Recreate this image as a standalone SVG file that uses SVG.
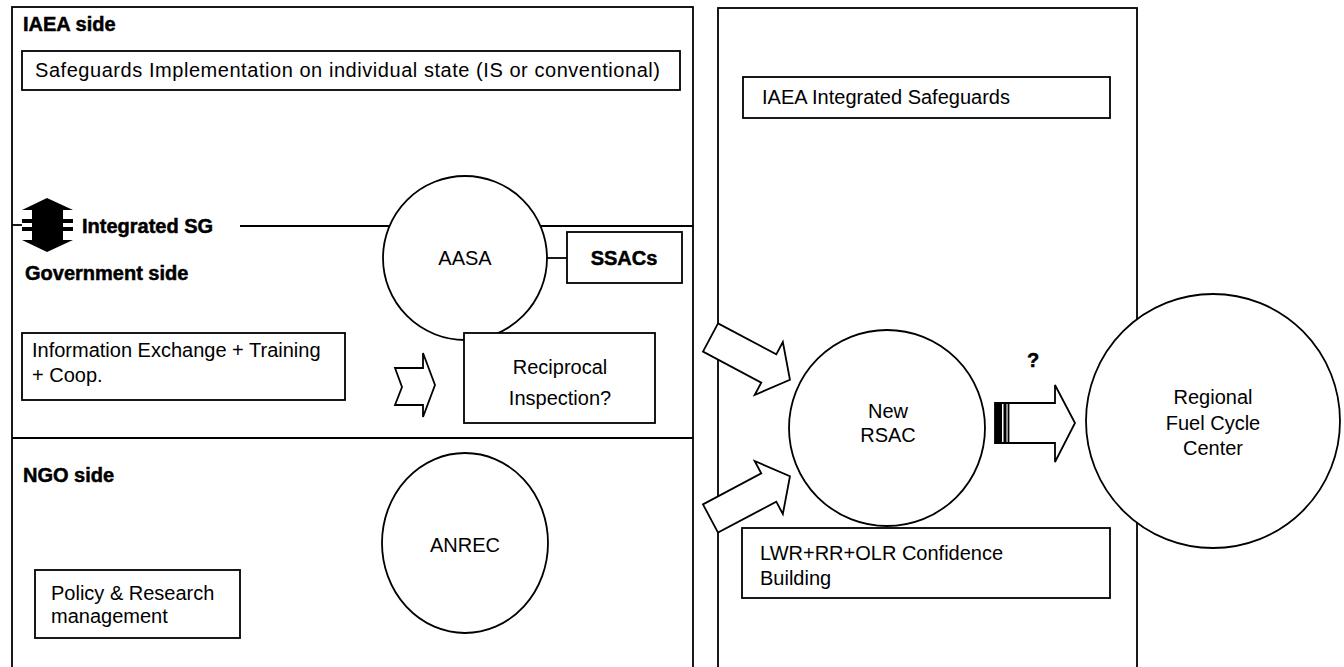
<svg xmlns="http://www.w3.org/2000/svg" width="1344" height="667" viewBox="0 0 1344 667">
<style>
.ln{fill:none;stroke:#000;stroke-width:1.8}
.bx{fill:#fff;stroke:#000;stroke-width:1.8}
.t{font-family:"Liberation Sans",Arial,sans-serif;font-size:20px;fill:#000}
.b{font-weight:bold;stroke:#000;stroke-width:0.5}
.c{text-anchor:middle}
</style>
<rect width="1344" height="667" fill="#fff"/>
<g id="panel-left">
<rect class="ln" x="12" y="7" width="681" height="670"/>
<line class="ln" x1="12" y1="438" x2="693" y2="438"/>
<text class="t b" x="23" y="31">IAEA side</text>
<text class="t b" x="25" y="280">Government side</text>
<text class="t b" x="23" y="482">NGO side</text>
</g>
<g id="panel-right">
<rect class="ln" x="718" y="8" width="419" height="670"/>
</g>
<g id="connectors">
<line class="ln" x1="12" y1="225" x2="22" y2="225"/>
<line class="ln" x1="240" y1="226" x2="390" y2="226"/>
<line class="ln" x1="540" y1="226" x2="693" y2="226"/>
<line class="ln" x1="547" y1="258" x2="567" y2="258"/>
<polygon fill="#000" points="47,198 73,210 63,210 63,219 73,219 73,223 63,223 63,227 73,227 73,231 63,231 63,240 73,240 47,252 22,240 32,240 32,231 22,231 22,227 32,227 32,223 22,223 22,219 32,219 32,210 22,210"/>
<text class="t b" x="82" y="233">Integrated SG</text>
<polygon class="bx" points="395,368 423,368 423,353 435,385 423,417 423,405 395,405 402,387"/>
<g transform="translate(710.5,337.5) rotate(28)"><polygon class="bx" points="0,-16 66,-16 66,-30 90,0 66,30 66,16 0,16"/></g>
<g transform="translate(710.5,518.5) rotate(-28)"><polygon class="bx" points="0,-16 66,-16 66,-30 90,0 66,30 66,16 0,16"/></g>
<polygon class="bx" points="995,403 1055,403 1055,385 1075,423 1055,462 1055,443 995,443"/>
<rect x="995" y="403" width="7" height="40" fill="#000"/>
<rect x="1003.5" y="403" width="3" height="40" fill="#000"/>
<line class="ln" x1="1008.5" y1="403" x2="1008.5" y2="443"/>
<text class="t b c" x="1033" y="367">?</text>
</g>
<g id="safeguards-impl">
<rect class="bx" x="22" y="51" width="658" height="39"/>
<text class="t" x="35" y="77" textLength="625" lengthAdjust="spacing">Safeguards Implementation on individual state (IS or conventional)</text>
</g>
<g id="aasa">
<circle class="bx" cx="465" cy="258" r="82"/>
<text class="t c" x="465" y="265">AASA</text>
</g>
<g id="ssacs">
<rect class="bx" x="567" y="232" width="115" height="51"/>
<text class="t b c" x="624" y="265">SSACs</text>
</g>
<g id="info-exchange">
<rect class="bx" x="22" y="333" width="323" height="67"/>
<text class="t" x="32" y="357">Information Exchange + Training</text>
<text class="t" x="32" y="382">+ Coop.</text>
</g>
<g id="reciprocal">
<rect class="bx" x="464" y="333" width="191" height="90"/>
<text class="t c" x="560" y="374">Reciprocal</text>
<text class="t c" x="560" y="405">Inspection?</text>
</g>
<g id="anrec">
<ellipse class="bx" cx="465" cy="543" rx="83" ry="90"/>
<text class="t c" x="465" y="552">ANREC</text>
</g>
<g id="policy">
<rect class="bx" x="35" y="570" width="205" height="68"/>
<text class="t" x="51" y="600">Policy &amp; Research</text>
<text class="t" x="51" y="623">management</text>
</g>
<g id="iaea-is">
<rect class="bx" x="743" y="77" width="367" height="41"/>
<text class="t" x="762" y="104">IAEA Integrated Safeguards</text>
</g>
<g id="rsac">
<circle class="bx" cx="887" cy="428" r="98"/>
<text class="t c" x="888" y="418">New</text>
<text class="t c" x="888" y="442">RSAC</text>
</g>
<g id="lwr">
<rect class="bx" x="742" y="528" width="368" height="70"/>
<text class="t" x="760" y="560">LWR+RR+OLR Confidence</text>
<text class="t" x="760" y="585">Building</text>
</g>
<g id="regional">
<circle class="bx" cx="1213" cy="421" r="127"/>
<text class="t c" x="1213" y="404">Regional</text>
<text class="t c" x="1213" y="430">Fuel Cycle</text>
<text class="t c" x="1213" y="455">Center</text>
</g>
</svg>
